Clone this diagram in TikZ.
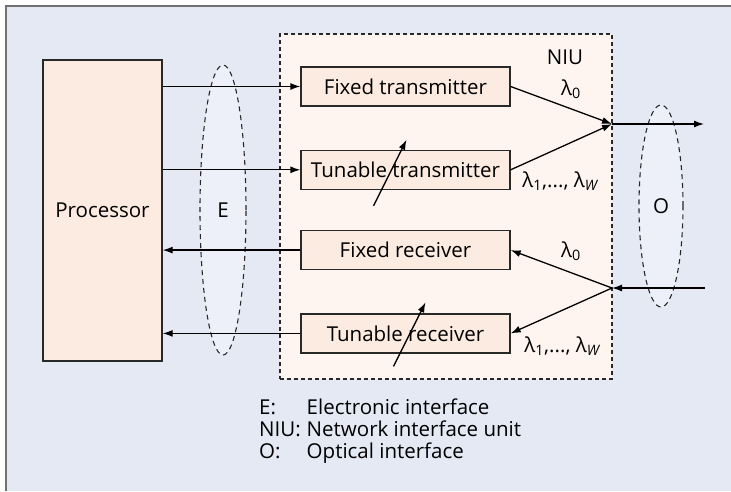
\documentclass[tikz,border=0pt]{standalone}
\usepackage{fontspec}
\setmainfont{Open Sans}
\usetikzlibrary{arrows.meta,positioning,shapes.geometric,calc}
\definecolor{pagebg}{RGB}{228,233,244}
\definecolor{framegray}{RGB}{112,112,112}
\definecolor{niufill}{RGB}{254,245,240}
\definecolor{boxfill}{RGB}{252,235,224}
\definecolor{ifacefill}{RGB}{237,239,249}
\definecolor{linedark}{RGB}{40,40,40}

\begin{document}
\begin{tikzpicture}[
    x=1pt, y=-1pt,
    font=\fontsize{20.5}{23}\selectfont,
    node distance=43pt,
    block/.style={
        rectangle,
        draw=linedark,
        line width=1.3pt,
        fill=boxfill,
        minimum width=209pt,
        minimum height=39pt,
        inner sep=2pt
    },
    niubox/.style={
        rectangle,
        draw=linedark,
        line width=1.1pt,
        dash pattern=on 4pt off 3pt,
        fill=niufill
    },
    iface/.style={
        ellipse,
        draw=linedark,
        line width=1.1pt,
        dash pattern=on 5pt off 4pt,
        fill=ifacefill,
        inner sep=0pt
    },
    arrow/.style={-{Latex[length=10pt,width=7pt]}, line width=1.3pt, draw=black},
    wavelabel/.style={inner sep=1pt}
]
\useasboundingbox (0,0) rectangle (731,491);

% Background and frame
\fill[pagebg] (6,6) rectangle (731,491);
\draw[framegray, line width=2pt] (6,491) -- (6,6) -- (731,6);

% Main modules
\node[niubox, minimum width=332pt, minimum height=345pt] (niu) at (446,206.5) {};
\node at (565,57) (niulabel) {NIU};

\node[block, minimum width=119pt, minimum height=301pt] (proc) at (102.5,210.5) {Processor};

\node[block] (ftx) at (405.5,86.5) {Fixed transmitter};
\node[block, below=43pt of ftx] (ttx) {Tunable transmitter};
\node[block, below=40pt of ttx] (frx) {Fixed receiver};
\node[block, below=43pt of frx] (trx) {Tunable receiver};

% Interfaces
\node[iface, minimum width=46pt, minimum height=290pt] (eif) at (223,210) {E};
\node[iface, minimum width=44pt, minimum height=202pt] (oif) at (661,206) {O};

% Optical points
\coordinate (txpt) at (612,124);
\coordinate (rxpt) at (612,288);
\coordinate (outend) at (704,124);
\coordinate (inend) at (705,288);

% Electronic side
\draw[arrow] (proc.east |- ftx.west) -- (ftx.west);
\draw[arrow] (proc.east |- ttx.west) -- (ttx.west);
\draw[arrow] (frx.west) -- (proc.east |- frx.west);
\draw[arrow] (trx.west) -- (proc.east |- trx.west);

% Optical side
\draw[arrow] (ftx.east) -- (txpt);
\draw[arrow] (ttx.east) -- (txpt);
\draw[arrow] (txpt) -- (outend);
\draw[arrow] (inend) -- (rxpt);
\draw[arrow] (rxpt) -- (frx.east);
\draw[arrow] (rxpt) -- (trx.east);

% Tuning marks
\draw[arrow] ($(ttx.center)+(-32,36)$) -- ($(ttx.center)+(1,-30)$);
\draw[arrow] ($(trx.center)+(-12,33)$) -- ($(trx.center)+(20,-31)$);

% Wavelengths
\node[wavelabel] (lt0) at (571,89) {λ\textsubscript{0}};
\node[wavelabel] (ltw) at (560,181) {λ\textsubscript{1},..., λ\textsubscript{\itshape W}};
\node[wavelabel] (lr0) at (571,251) {λ\textsubscript{0}};
\node[wavelabel] (lrw) at (562,346) {λ\textsubscript{1},..., λ\textsubscript{\itshape W}};

% Legend
\node[anchor=base west, inner sep=0pt, font=\fontsize{20.5}{21.5}\selectfont] (legend) at (259,414)
    {\begin{tabular}[t]{@{}l@{\hspace{6pt}}l@{}}
     E: & Electronic interface\\
     NIU: & Network interface unit\\
     O: & Optical interface
     \end{tabular}};

\end{tikzpicture}
\end{document}
